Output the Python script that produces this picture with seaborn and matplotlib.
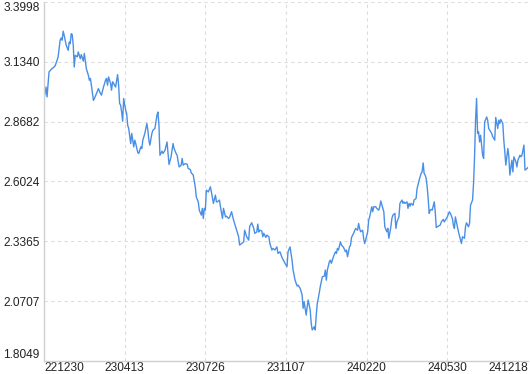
import matplotlib
matplotlib.use("Agg")
import matplotlib.pyplot as plt
import seaborn as sns
import pandas as pd

# trading-day index and value
day_index = [0, 2, 3, 5, 8, 9, 11, 13, 14, 16, 17, 18, 19, 20, 22, 24, 25, 26, 27, 28,
             29, 30, 31, 33, 34, 36, 37, 39, 40, 41, 42, 44, 45, 46, 47, 49, 50, 52, 53, 54,
             56, 57, 59, 61, 62, 63, 64, 66, 67, 68, 69, 71, 73, 74, 75, 76, 77, 78, 79, 81,
             82, 83, 84, 86, 87, 89, 90, 91, 93, 94, 96, 97, 98, 100, 102, 103, 104, 105, 107, 108,
             110, 112, 113, 114, 115, 117, 118, 120, 122, 123, 124, 126, 128, 129, 131, 132, 134, 136, 137, 138,
             140, 142, 143, 145, 146, 148, 150, 151, 153, 154, 156, 157, 158, 159, 160, 161, 163, 165, 166, 168,
             170, 171, 172, 174, 175, 177, 178, 180, 181, 183, 184, 186, 188, 189, 191, 193, 194, 196, 198, 199,
             201, 203, 204, 206, 208, 209, 211, 212, 213, 214, 216, 217, 218, 220, 221, 223, 224, 226, 227, 229,
             231, 232, 234, 236, 237, 239, 241, 242, 244, 246, 247, 249, 251, 252, 254, 256, 257, 258, 260, 261,
             262, 264, 265, 266, 268, 269, 270, 271, 272, 274, 275, 276, 278, 279, 280, 281, 283, 284, 285, 287,
             289, 290, 291, 292, 294, 295, 297, 299, 300, 301, 303, 304, 305, 307, 308, 309, 311, 312, 313, 314,
             316, 317, 318, 319, 321, 322, 323, 325, 326, 327, 329, 330, 332, 333, 334, 336, 337, 338, 340, 341,
             342, 344, 345, 346, 348, 349, 350, 352, 353, 355, 356, 357, 358, 360, 361, 362, 363, 364, 366, 367,
             369, 370, 372, 373, 374, 375, 376, 377, 378, 379, 380, 381, 382, 383, 384, 385, 387, 388, 389, 391,
             393, 394, 396, 397, 399, 400, 402, 403, 405, 406, 407, 408, 410, 411, 413, 414, 415, 417, 418, 419,
             421, 422, 423, 425, 426, 427, 428, 429, 430, 431, 432, 433, 435, 436, 437, 439, 440, 441, 443, 444,
             445, 447, 448, 450, 451, 452, 453, 455, 456, 457, 458, 460, 461, 462, 464, 465, 466, 468, 469, 470,
             472, 473, 474, 476, 477, 479, 480]

values = [2.968, 3.022, 2.978, 3.089, 3.105, 3.107, 3.116, 3.141, 3.156, 3.230, 3.240, 3.230, 3.270, 3.252, 3.208, 3.185, 3.222, 3.215, 3.259, 3.255,
          3.208, 3.111, 3.163, 3.156, 3.178, 3.148, 3.166, 3.137, 3.171, 3.137, 3.104, 3.074, 3.052, 3.060, 3.030, 2.963, 2.971, 2.993, 3.003, 3.015,
          2.993, 2.986, 3.022, 3.052, 3.060, 3.030, 3.067, 3.038, 3.008, 3.045, 3.038, 3.022, 3.077, 3.030, 2.949, 2.941, 2.911, 2.870, 2.971, 2.919,
          2.904, 2.852, 2.838, 2.771, 2.816, 2.756, 2.786, 2.771, 2.731, 2.727, 2.756, 2.749, 2.786, 2.816, 2.860, 2.830, 2.786, 2.764, 2.816, 2.830,
          2.838, 2.897, 2.911, 2.852, 2.719, 2.737, 2.727, 2.741, 2.778, 2.727, 2.678, 2.712, 2.771, 2.749, 2.727, 2.719, 2.667, 2.675, 2.705, 2.675,
          2.682, 2.679, 2.660, 2.656, 2.641, 2.631, 2.579, 2.534, 2.512, 2.475, 2.453, 2.483, 2.438, 2.483, 2.475, 2.564, 2.556, 2.579, 2.556, 2.505,
          2.542, 2.512, 2.512, 2.520, 2.490, 2.438, 2.483, 2.445, 2.448, 2.438, 2.443, 2.468, 2.431, 2.416, 2.386, 2.357, 2.320, 2.327, 2.334, 2.386,
          2.357, 2.342, 2.404, 2.419, 2.394, 2.372, 2.378, 2.413, 2.378, 2.386, 2.383, 2.357, 2.372, 2.354, 2.364, 2.357, 2.327, 2.298, 2.305, 2.298,
          2.312, 2.283, 2.290, 2.265, 2.256, 2.239, 2.224, 2.290, 2.312, 2.253, 2.209, 2.164, 2.138, 2.142, 2.128, 2.098, 2.039, 2.068, 2.009, 2.046,
          2.076, 2.031, 1.972, 1.943, 1.957, 1.943, 2.009, 2.061, 2.083, 2.135, 2.157, 2.179, 2.182, 2.209, 2.164, 2.209, 2.246, 2.253, 2.239, 2.268,
          2.290, 2.283, 2.305, 2.298, 2.334, 2.320, 2.310, 2.290, 2.298, 2.268, 2.312, 2.320, 2.354, 2.372, 2.383, 2.394, 2.386, 2.416, 2.394, 2.379,
          2.386, 2.350, 2.327, 2.342, 2.379, 2.431, 2.445, 2.490, 2.468, 2.490, 2.490, 2.483, 2.475, 2.490, 2.516, 2.483, 2.468, 2.401, 2.379, 2.394,
          2.350, 2.401, 2.438, 2.453, 2.461, 2.394, 2.423, 2.445, 2.505, 2.520, 2.505, 2.512, 2.505, 2.512, 2.483, 2.505, 2.493, 2.505, 2.497, 2.520,
          2.527, 2.571, 2.608, 2.623, 2.638, 2.645, 2.685, 2.638, 2.631, 2.616, 2.579, 2.527, 2.461, 2.475, 2.478, 2.475, 2.512, 2.468, 2.398, 2.404,
          2.409, 2.423, 2.434, 2.423, 2.438, 2.445, 2.468, 2.461, 2.438, 2.409, 2.394, 2.445, 2.401, 2.379, 2.345, 2.327, 2.357, 2.350, 2.401, 2.419,
          2.401, 2.416, 2.497, 2.520, 2.594, 2.712, 2.875, 2.971, 2.816, 2.823, 2.778, 2.808, 2.719, 2.705, 2.867, 2.889, 2.875, 2.838, 2.823, 2.816,
          2.801, 2.786, 2.887, 2.838, 2.875, 2.860, 2.878, 2.860, 2.786, 2.734, 2.675, 2.749, 2.712, 2.631, 2.697, 2.645, 2.712, 2.690, 2.667, 2.697,
          2.719, 2.712, 2.719, 2.764, 2.653, 2.660, 2.665]

x_tick_pos = [0, 80, 160, 240, 320, 400, 480]
x_tick_labels = ["221230", "230413", "230726", "231107", "240220", "240530", "241218"]
y_ticks = [1.8049, 2.0707, 2.3365, 2.6024, 2.8682, 3.1340, 3.3998]
y_tick_labels = ["1.8049", "2.0707", "2.3365", "2.6024", "2.8682", "3.1340", "3.3998"]

df = pd.DataFrame({"day": day_index, "value": values})

sns.set_style("white")
plt.rcParams["font.family"] = ["Liberation Sans", "DejaVu Sans"]

fig = plt.figure(figsize=(5.30, 3.74), dpi=100)
ax = fig.add_axes([44 / 530, 13 / 374, 484 / 530, 359 / 374])

sns.lineplot(data=df, x="day", y="value", ax=ax, color="#4a8fe6", linewidth=1.0)

ax.set_xlim(x_tick_pos[0], x_tick_pos[-1])
ax.set_ylim(y_ticks[0], y_ticks[-1])
ax.set_xticks(x_tick_pos)
ax.set_xticklabels(x_tick_labels)
ax.set_yticks(y_ticks)
ax.set_yticklabels(y_tick_labels)
ax.set_xlabel("")
ax.set_ylabel("")

ax.grid(True, color="#dcdcdc", linestyle=(0, (3, 3)), linewidth=0.8)
ax.set_axisbelow(True)
for s in ["top", "right"]:
    ax.spines[s].set_visible(False)
for s in ["left", "bottom"]:
    ax.spines[s].set_color("#d0d0d0")
    ax.spines[s].set_linewidth(1.0)

ax.tick_params(axis="both", length=0, labelsize=8.6, colors="#222222")
ax.tick_params(axis="x", pad=0.8)
ax.tick_params(axis="y", pad=3.2)

xl = ax.get_xticklabels()
xl[0].set_ha("left")
xl[-1].set_ha("right")
yl = ax.get_yticklabels()
yl[0].set_va("bottom")
yl[-1].set_va("top")

fig.savefig("out.png", dpi=100)
